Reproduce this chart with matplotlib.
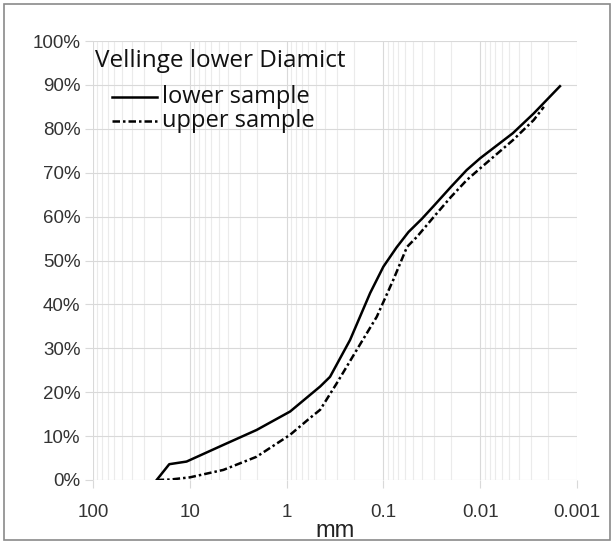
import numpy as np
import matplotlib.pyplot as plt
from matplotlib.patches import Rectangle
from matplotlib.lines import Line2D
from matplotlib.ticker import FixedLocator, FuncFormatter, LogLocator, NullFormatter

# lower sample (solid)
lower_mm = [22, 16.3, 10.8, 4.5, 2.04, 0.92, 0.45, 0.356, 0.221, 0.137, 0.1,
            0.073, 0.055, 0.04, 0.03, 0.02, 0.0138, 0.01, 0.0046, 0.0028, 0.0015]
lower_pct = [0, 3.6, 4.2, 8, 11.4, 15.6, 21.3, 23.5, 31.9, 42.6, 48.6,
             53, 56.5, 59.5, 62.5, 66.8, 70.6, 73.3, 79, 83.5, 89.7]

# upper sample (dash-dot)
upper_mm = [22, 16, 10, 4.5, 2.04, 0.92, 0.575, 0.45, 0.304, 0.189, 0.117,
            0.079, 0.057, 0.045, 0.03, 0.02, 0.0138, 0.01, 0.0046, 0.0028, 0.0022]
upper_pct = [0, 0.1, 0.6, 2.3, 5.3, 10.3, 14.1, 16, 22, 29.6, 37.2,
             45.6, 53.1, 55.4, 60, 64.5, 68.3, 71, 77.4, 82, 85]

x_ticks = [100, 10, 1, 0.1, 0.01, 0.001]
x_labels = ['100', '10', '1', '0.1', '0.01', '0.001']
y_ticks = list(range(0, 101, 10))

title = 'Vellinge lower Diamict'
names = ['lower sample', 'upper sample']
dash = (0, (3, 1.2, 1, 1.2))

plt.rcParams['font.family'] = 'Liberation Sans'

W, H = 614, 544
fig = plt.figure(figsize=(W / 100, H / 100), dpi=100)
ax = fig.add_axes([93/W, 1 - 480/H, 484/W, 439/H])

ax.plot(lower_mm, lower_pct, color='black', lw=1.8)
ax.plot(upper_mm, upper_pct, color='black', lw=1.8, linestyle=dash)

ax.set_xscale('log')
ax.set_xlim(100, 0.001)
ax.set_ylim(0, 100)

ax.xaxis.set_major_locator(FixedLocator(x_ticks))
ax.set_xticklabels(x_labels)
ax.xaxis.set_minor_locator(LogLocator(base=10, subs=np.arange(2, 10)))
ax.xaxis.set_minor_formatter(NullFormatter())
ax.set_yticks(y_ticks)
ax.yaxis.set_major_formatter(FuncFormatter(lambda v, p: '%d%%' % v))

ax.grid(True, which='major', color='#d9d9d9', lw=0.8)
ax.grid(True, which='minor', axis='x', color='#ebebeb', lw=0.8)
ax.set_axisbelow(True)
for s in ax.spines.values():
    s.set_visible(False)

ax.tick_params(axis='both', which='major', length=6, color='#d9d9d9',
               labelsize=13.5, labelcolor='#333333')
ax.tick_params(axis='y', pad=3)
ax.tick_params(axis='x', pad=11)
ax.tick_params(axis='x', which='minor', length=0)


def px(x, y):
    return x / W, 1 - y / H


# axis title
fig.text(*px(335, 537), 'mm', fontsize=17, color='#222222', ha='center', va='baseline')

# chart title and legend, placed like the original inset
fig.text(*px(95, 67), title, family='Open Sans', fontsize=17.5, color='#111111', va='baseline')
for i, (name, ls) in enumerate(zip(names, ['-', dash])):
    y_line = 97 + 24 * i
    fig.add_artist(Line2D([112/W, 157/W], [1 - y_line/H] * 2, color='black', lw=1.8,
                          linestyle=ls, transform=fig.transFigure))
    fig.text(*px(162, 103 + 24 * i), name, family='Open Sans', fontsize=17,
             color='#111111', va='baseline')

fig.patches.append(Rectangle((4/W, 4/H), 606/W, 536/H, transform=fig.transFigure,
                             fill=False, edgecolor='#8a8a8a', lw=1.2))

fig.savefig('out.png', dpi=100)
